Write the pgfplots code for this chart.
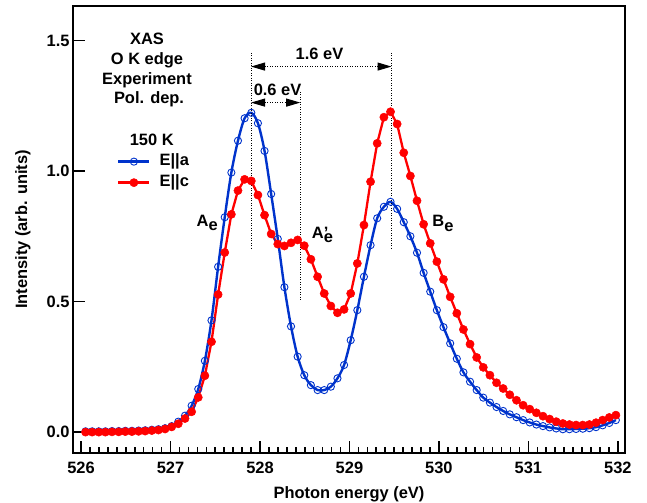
\documentclass[border=0pt]{standalone}
\usepackage{fontspec}
\setmainfont{Liberation Sans}
\usepackage{pgfplots}
\pgfplotsset{compat=1.18}
\usepackage{pgfplotstable}
\usetikzlibrary{arrows.meta}
\definecolor{cblue}{RGB}{0,51,204}
\definecolor{cred}{RGB}{255,0,0}
\newcommand\ff{\fontsize{16.5}{19.8}\selectfont\bfseries}

\pgfplotstableread{
x a c
526.050 0.003 0.000
526.124 0.003 0.000
526.198 0.003 0.000
526.272 0.003 0.000
526.346 0.004 0.001
526.421 0.004 0.001
526.495 0.005 0.002
526.569 0.005 0.002
526.643 0.006 0.003
526.717 0.007 0.004
526.791 0.009 0.006
526.865 0.011 0.008
526.939 0.015 0.012
527.013 0.023 0.020
527.087 0.040 0.032
527.162 0.063 0.052
527.236 0.101 0.078
527.310 0.165 0.133
527.384 0.273 0.216
527.458 0.428 0.346
527.532 0.633 0.527
527.606 0.823 0.688
527.680 0.994 0.834
527.754 1.116 0.925
527.828 1.202 0.968
527.903 1.223 0.962
527.977 1.183 0.908
528.051 1.077 0.831
528.125 0.912 0.759
528.199 0.740 0.720
528.273 0.555 0.713
528.347 0.405 0.725
528.421 0.289 0.736
528.495 0.218 0.714
528.569 0.180 0.662
528.644 0.161 0.595
528.718 0.161 0.531
528.792 0.174 0.483
528.866 0.206 0.457
528.940 0.257 0.470
529.014 0.352 0.531
529.088 0.467 0.646
529.162 0.595 0.793
529.236 0.716 0.959
529.310 0.819 1.106
529.385 0.863 1.206
529.459 0.882 1.227
529.533 0.855 1.180
529.607 0.804 1.070
529.681 0.750 0.981
529.755 0.687 0.886
529.829 0.610 0.796
529.903 0.538 0.723
529.977 0.467 0.653
530.051 0.402 0.585
530.126 0.340 0.518
530.200 0.281 0.455
530.274 0.229 0.393
530.348 0.193 0.337
530.422 0.161 0.286
530.496 0.132 0.248
530.570 0.113 0.218
530.644 0.096 0.189
530.718 0.081 0.167
530.792 0.068 0.143
530.867 0.057 0.122
530.941 0.046 0.103
531.015 0.037 0.088
531.089 0.029 0.074
531.163 0.023 0.061
531.237 0.018 0.050
531.311 0.014 0.040
531.385 0.011 0.033
531.459 0.011 0.029
531.533 0.012 0.027
531.608 0.013 0.027
531.682 0.015 0.029
531.756 0.019 0.036
531.830 0.026 0.046
531.904 0.035 0.056
531.978 0.046 0.065
}\datatable

\begin{document}
\begin{tikzpicture}
\begin{axis}[
  scale only axis, width=552bp, height=447bp,
  xmin=525.91, xmax=532.08, ymin=-0.08, ymax=1.632,
  axis line style={line width=2.2bp},
  xtick={526,527,528,529,530,531,532}, minor x tick num=9,
  ytick={0,0.5,1,1.5},
  xtick pos=bottom, ytick pos=left,
  tick align=inside,
  major tick length=12bp, minor tick length=6bp,
  every tick/.style={black, line width=1.6bp},
  /pgf/number format/assume math mode=true,
  tick label style={font=\ff},
  yticklabel style={/pgf/number format/fixed, /pgf/number format/fixed zerofill, /pgf/number format/precision=1},
  xticklabel style={yshift=-6bp},
  label style={font=\ff},
  xlabel={Photon energy (eV)},
  ylabel={Intensity (arb. units)},
  xlabel style={at={(axis description cs:0.5,-0.1007)}, anchor=base},
  ylabel style={at={(axis description cs:-0.0833,0.5)}, anchor=base},
  legend image code/.code={\draw[mark repeat=2,mark phase=2,#1] plot coordinates {(0bp,0bp) (15.5bp,0bp) (31bp,0bp)};},
  legend style={at={(axis cs:526.402,1.0663)}, anchor=north west, draw=none, fill=none, inner sep=0pt, row sep=5.5bp,
    nodes={inner sep=0pt, font=\ff, text height=12bp, text depth=3.5bp},
    /tikz/every odd column/.append style={column sep=9bp}},
  legend cell align=left,
]
\addplot[color=cblue, line width=2.4bp, smooth, mark=o, mark size=3.6bp, mark options={line width=0.9bp, solid}] table[x=x,y=a]{\datatable};
\addlegendentry{E||a}
\addplot[color=cred, line width=2.3bp, mark=*, mark size=4.1bp, mark options={line width=0.5bp, solid}] table[x=x,y=c]{\datatable};
\addlegendentry{E||c}

\draw[line width=1bp, dash pattern=on 1bp off 1.5bp] (axis cs:527.90,1.452) -- (axis cs:527.90,0.705);
\draw[line width=1bp, dash pattern=on 1bp off 1.5bp] (axis cs:529.47,1.452) -- (axis cs:529.47,0.705);
\draw[line width=1bp, dash pattern=on 1bp off 1.5bp] (axis cs:528.45,1.303) -- (axis cs:528.45,0.506);
\draw[line width=1bp, dash pattern=on 1bp off 1.5bp, {Triangle[length=14bp,width=8bp]}-{Triangle[length=14bp,width=8bp]}] (axis cs:527.90,1.400) -- (axis cs:529.47,1.400);
\draw[line width=1bp, dash pattern=on 1bp off 1.5bp, {Triangle[length=14bp,width=8bp]}-{Triangle[length=14bp,width=8bp]}] (axis cs:527.90,1.262) -- (axis cs:528.45,1.262);

\node[anchor=base, font=\ff, inner sep=0pt] at (axis cs:528.665,1.428) {1.6 eV};
\node[anchor=base, font=\ff, inner sep=0pt] at (axis cs:528.196,1.291) {0.6 eV};

\node[anchor=base, font=\ff, inner sep=0pt] at (axis cs:526.737,1.4828) {XAS};
\node[anchor=base, font=\ff, inner sep=0pt] at (axis cs:526.737,1.408) {O K edge};
\node[anchor=base, font=\ff, inner sep=0pt] at (axis cs:526.737,1.333) {Experiment};
\node[anchor=base, font=\ff, inner sep=0pt] at (axis cs:526.760,1.2586) {Pol. dep.};
\node[anchor=base, font=\ff, inner sep=0pt] at (axis cs:526.790,1.0996) {150 K};

\node[anchor=base west, font=\ff, inner sep=0pt] at (axis cs:527.290,0.789) {A\raisebox{-4.5bp}{e}};
\node[anchor=base west, font=\ff, inner sep=0pt] at (axis cs:528.578,0.742) {A\rlap{'}\raisebox{-4.5bp}{e}};
\node[anchor=base west, font=\ff, inner sep=0pt] at (axis cs:529.925,0.787) {B\raisebox{-4.5bp}{e}};
\end{axis}
\pgfresetboundingbox
\path (-73bp,-50bp) rectangle (574bp,453bp);
\end{tikzpicture}
\end{document}
